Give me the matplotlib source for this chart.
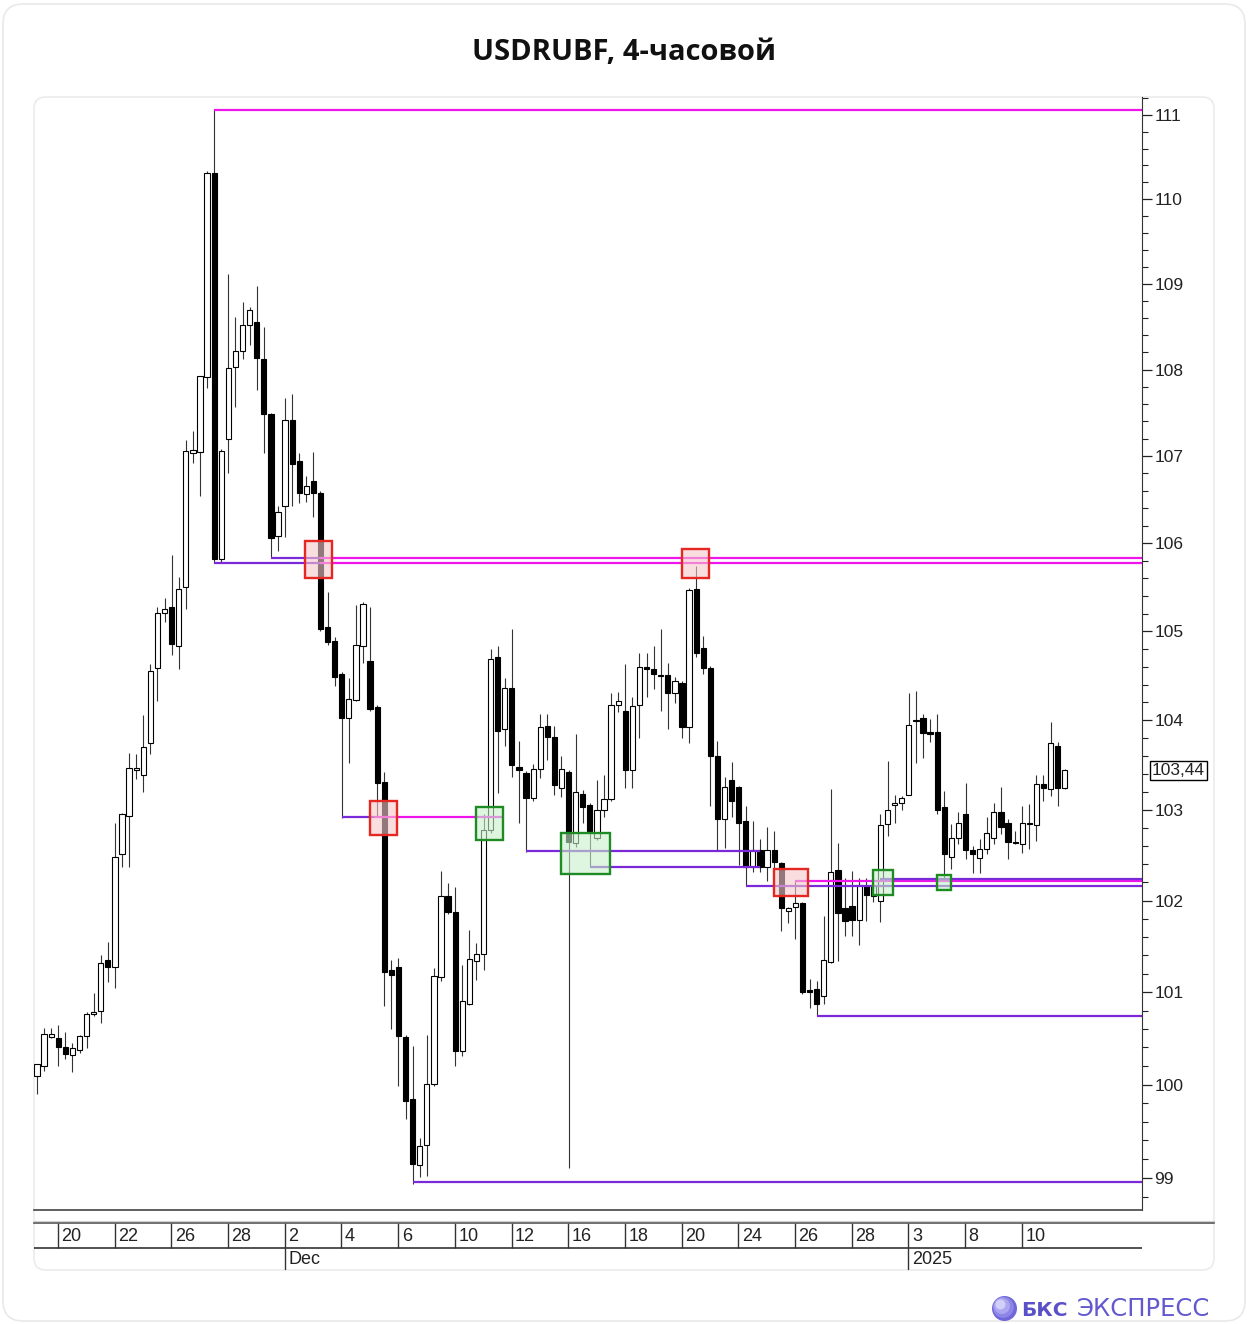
import numpy as np
import matplotlib.pyplot as plt
from matplotlib.patches import FancyBboxPatch, Rectangle, Circle
from matplotlib.lines import Line2D
from matplotlib.ticker import FixedLocator, FixedFormatter, NullFormatter


# ---------------------------------------------------------------- data (4h candles)
opens = [100.09, 100.20, 100.51, 100.50, 100.41, 100.32, 100.37, 100.52, 100.76, 100.80,
         101.35, 101.27, 102.51, 102.93, 103.44, 103.39, 103.74, 104.59, 105.21, 105.28,
         104.83, 105.50, 107.03, 107.05, 107.91, 110.31, 105.82, 107.20, 108.03, 108.21,
         108.52, 108.55, 108.12, 107.48, 106.08, 106.42, 107.42, 106.94, 106.56, 106.71,
         106.57, 105.05, 104.89, 104.52, 104.02, 104.23, 104.83, 104.67, 104.15, 103.31,
         101.24, 101.27, 100.51, 99.84, 99.14, 99.35, 100.01, 101.16, 102.05, 101.87,
         100.36, 100.87, 101.34, 101.41, 102.78, 104.71, 103.90, 104.36, 103.48, 103.41,
         103.13, 103.46, 103.94, 103.81, 103.24, 103.42, 102.63, 103.18, 103.06, 102.69,
         103.00, 103.12, 104.17, 104.10, 103.44, 104.17, 104.60, 104.57, 104.51, 104.51,
         104.30, 104.42, 103.92, 105.48, 104.81, 104.59, 103.60, 102.90, 103.33, 103.25,
         102.88, 102.37, 102.56, 102.37, 102.56, 102.41, 101.89, 101.93, 101.97, 101.02,
         101.03, 100.96, 101.33, 102.34, 101.92, 101.94, 101.79, 102.16, 102.05, 101.99,
         102.84, 103.06, 103.08, 103.17, 103.99, 104.02, 103.87, 103.87, 103.03, 102.48,
         102.69, 102.96, 102.56, 102.47, 102.57, 102.69, 102.98, 102.86, 102.65, 102.62,
         102.86, 102.83, 103.29, 103.23, 103.71, 103.24]
highs = [100.22, 100.61, 100.61, 100.64, 100.57, 100.45, 100.54, 100.78, 100.99, 101.40,
         101.55, 102.86, 102.97, 103.63, 103.62, 104.06, 104.63, 105.28, 105.38, 105.86,
         105.61, 107.18, 107.29, 107.93, 110.33, 111.06, 107.08, 109.12, 108.61, 108.79,
         108.73, 108.98, 108.49, 107.50, 106.42, 107.67, 107.72, 107.03, 106.77, 107.05,
         106.60, 105.45, 104.93, 104.54, 104.47, 105.30, 105.33, 105.28, 104.17, 103.42,
         101.35, 101.37, 100.53, 100.42, 99.43, 100.54, 101.26, 102.33, 102.19, 102.15,
         101.29, 101.68, 101.54, 102.95, 104.80, 104.83, 104.47, 105.03, 103.77, 103.43,
         103.51, 104.07, 104.07, 103.94, 103.60, 103.44, 103.84, 103.22, 103.08, 103.33,
         103.39, 104.30, 104.32, 104.63, 104.26, 104.75, 104.76, 104.83, 105.03, 104.64,
         104.49, 104.44, 105.49, 105.74, 104.95, 104.61, 103.77, 103.37, 103.53, 103.27,
         103.04, 102.88, 102.68, 102.81, 102.77, 102.43, 101.93, 102.23, 101.98, 101.14,
         101.12, 101.83, 103.23, 102.63, 102.25, 102.33, 102.25, 102.25, 102.22, 102.96,
         103.54, 103.17, 103.15, 104.30, 104.33, 104.07, 104.01, 104.07, 103.21, 102.84,
         102.98, 103.30, 102.60, 102.68, 102.92, 103.08, 103.26, 102.90, 102.77, 103.04,
         103.07, 103.39, 103.39, 103.98, 103.76, 103.45]
lows = [99.90, 100.15, 100.50, 100.20, 100.28, 100.14, 100.34, 100.39, 100.74, 100.66,
        101.11, 101.04, 102.37, 102.37, 103.34, 103.20, 103.62, 104.22, 105.11, 104.73,
        104.58, 105.25, 106.92, 106.54, 107.78, 105.78, 105.78, 106.80, 107.57, 108.12,
        108.29, 107.76, 107.03, 105.83, 105.91, 106.07, 106.43, 106.46, 106.47, 106.30,
        105.00, 104.85, 104.38, 102.91, 103.52, 104.21, 104.64, 104.10, 102.93, 100.85,
        100.60, 99.98, 99.63, 98.94, 99.01, 99.02, 99.98, 101.12, 101.85, 100.20,
        100.31, 100.86, 101.13, 101.24, 102.75, 103.19, 103.71, 103.37, 102.86, 102.53,
        103.10, 103.35, 103.56, 103.17, 103.14, 99.11, 102.59, 102.85, 102.37, 102.67,
        102.92, 103.10, 104.09, 103.24, 103.24, 103.80, 104.26, 104.35, 104.10, 103.90,
        104.19, 103.80, 103.75, 104.71, 104.52, 103.04, 102.56, 102.58, 102.92, 102.39,
        102.16, 102.31, 102.31, 102.21, 102.35, 101.67, 101.75, 101.58, 100.98, 100.83,
        100.74, 100.87, 101.32, 101.34, 101.61, 101.61, 101.51, 101.78, 101.98, 101.77,
        102.71, 102.85, 103.00, 103.17, 103.52, 103.58, 103.76, 102.95, 102.22, 102.35,
        102.62, 102.46, 102.30, 102.30, 102.51, 102.62, 102.73, 102.46, 102.62, 102.52,
        102.57, 102.66, 103.10, 103.15, 103.04, 103.23]
closes = [100.22, 100.55, 100.55, 100.40, 100.33, 100.39, 100.52, 100.76, 100.78, 101.32,
          101.27, 102.48, 102.95, 103.47, 103.47, 103.70, 104.55, 105.21, 105.25, 104.86,
          105.48, 107.06, 107.07, 107.92, 110.31, 105.82, 107.06, 108.02, 108.22, 108.52,
          108.69, 108.13, 107.48, 106.06, 106.36, 107.42, 106.91, 106.57, 106.66, 106.58,
          105.03, 104.88, 104.49, 104.02, 104.24, 104.85, 105.31, 104.12, 103.30, 101.22,
          101.19, 100.52, 99.82, 99.15, 99.34, 100.01, 101.18, 102.05, 101.87, 100.36,
          100.90, 101.36, 101.41, 102.78, 104.69, 103.88, 104.36, 103.50, 103.44, 103.13,
          103.46, 103.92, 103.81, 103.28, 103.46, 102.64, 103.20, 103.03, 102.77, 103.00,
          103.12, 104.17, 104.21, 103.44, 104.16, 104.60, 104.57, 104.52, 104.50, 104.30,
          104.44, 103.92, 105.47, 104.75, 104.59, 103.60, 102.90, 103.26, 103.10, 102.86,
          102.37, 102.56, 102.37, 102.56, 102.42, 101.92, 101.92, 101.97, 101.00, 101.00,
          100.87, 101.35, 102.31, 101.86, 101.78, 101.79, 102.17, 102.06, 102.16, 102.83,
          103.00, 103.08, 103.13, 103.95, 104.00, 103.86, 103.85, 103.00, 102.51, 102.69,
          102.86, 102.56, 102.51, 102.57, 102.75, 102.98, 102.81, 102.64, 102.63, 102.86,
          102.84, 103.29, 103.24, 103.74, 103.24, 103.44]

# support / resistance levels: price, from candle, to candle (None = right edge), colour
levels = [
    (111.06, 25, None, 'magenta'),
    (105.78, 25, 40, 'purple'), (105.78, 40, None, 'magenta'),
    (105.83, 33, 40, 'purple'), (105.83, 40, None, 'magenta'),
    (102.92, 43, 47.5, 'purple'), (102.92, 47.5, 65.7, 'magenta'),
    (102.55, 69, 102, 'purple'),
    (102.37, 78, 102, 'purple'),
    (102.16, 100, None, 'purple'),
    (102.21, 107, None, 'magenta'),
    (102.235, 119, None, 'purple'),
    (100.74, 110, None, 'purple'),
    (98.96, 53, None, 'purple'),
]

# signal boxes: candle from, candle to, price low, price high, kind
boxes = [
    (37.8, 41.6, 105.60, 106.03, 'sell'),
    (47.0, 50.8, 102.72, 103.10, 'sell'),
    (61.9, 65.7, 102.67, 103.03, 'buy'),
    (73.9, 80.8, 102.29, 102.74, 'buy'),
    (91.0, 94.8, 105.60, 105.93, 'sell'),
    (104.0, 108.8, 102.05, 102.35, 'sell'),
    (118.0, 120.8, 102.06, 102.34, 'buy'),
    (127.0, 129.0, 102.12, 102.28, 'buy'),
]

day_labels = ['20', '22', '26', '28', '2', '4', '6', '10', '12', '16', '18',
              '20', '24', '26', '28', '3', '8', '10']
month_labels = {4: 'Dec', 15: '2025'}
price_ticks = list(range(99, 112))
last_price = 103.44
title = 'USDRUBF, 4-часовой'


################################################################################
W, H = 1249, 1324
fig = plt.figure(figsize=(W / 100, H / 100), dpi=100)
fig.patch.set_facecolor('white')

def fx(px):
    return px / W

def fy(py):
    return 1 - py / H

def inch(px, py):
    return px / 100, (H - py) / 100

colors = {'magenta': '#f014ec', 'purple': '#7a28d8'}
box_style = {'sell': ('#e52621', '#f5c9cc'), 'buy': ('#1f8b24', '#c8f0ca')}

# cards (behind the axes)
x0, y0 = inch(3, 1321)
fig.patches.append(FancyBboxPatch((x0, y0), 12.42, 13.17, boxstyle='round,pad=0,rounding_size=0.2',
                                  transform=fig.dpi_scale_trans, fc='white', ec='#e9e9e9', lw=1.2, zorder=-3))
x0, y0 = inch(34, 1270)
fig.patches.append(FancyBboxPatch((x0, y0), 11.80, 11.73, boxstyle='round,pad=0,rounding_size=0.12',
                                  transform=fig.dpi_scale_trans, fc='white', ec='#ebebeb', lw=1.2, zorder=-2))

fig.text(0.5, fy(52), title, ha='center', va='center', fontsize=21,
         fontweight='bold', family='Open Sans', color='#111111')

# ---------------------------------------------------------------- price panel
ax = fig.add_axes([fx(34), fy(1210), fx(1142) - fx(34), fy(97) - fy(1210)])
ax.set_facecolor('none')
n = len(opens)
idx = np.arange(n)
o, h, l, c = map(np.array, (opens, highs, lows, closes))
xlim = (-0.42, 155.9)

ax.vlines(idx, l, h, color='#333333', lw=0.8, zorder=2)
up = c >= o
body_lo = np.minimum(o, c)
body_h = np.maximum(np.abs(c - o), 0.012)
ax.bar(idx[up], body_h[up], bottom=body_lo[up], width=0.74, color='white',
       edgecolor='black', linewidth=0.8, zorder=3)
ax.bar(idx[~up], body_h[~up], bottom=body_lo[~up], width=0.74, color='black',
       edgecolor='black', linewidth=0.8, zorder=3)

for price, a, b, col in levels:
    ax.hlines(price, a, xlim[1] if b is None else b, color=colors[col], lw=1.6, zorder=4)

for a, b, lo, hi, kind in boxes:
    ec, fc = box_style[kind]
    ax.add_patch(Rectangle((a, lo), b - a, hi - lo, fc=fc, ec='none', alpha=0.6, zorder=5))
    ax.add_patch(Rectangle((a, lo), b - a, hi - lo, fc='none', ec=ec, lw=1.7, zorder=6))

ax.set_yscale('log')
ax.set_ylim(98.659, 111.215)
ax.set_xlim(*xlim)
ax.yaxis.tick_right()
ax.yaxis.set_major_locator(FixedLocator(price_ticks))
ax.yaxis.set_major_formatter(FixedFormatter([str(t) for t in price_ticks]))
ax.yaxis.set_minor_locator(FixedLocator(np.arange(98.8, 111.2, 0.2)))
ax.yaxis.set_minor_formatter(NullFormatter())
ax.tick_params(axis='y', which='major', length=7, width=0.9, pad=2, labelsize=12.5,
               labelfontfamily='Liberation Sans', colors='#222222')
ax.tick_params(axis='y', which='minor', length=4, width=0.8, colors='#222222')
ax.set_xticks([])
for s in ['top', 'left']:
    ax.spines[s].set_visible(False)
ax.spines['right'].set_color('#333333')
ax.spines['bottom'].set_color('#444444')
ax.spines['bottom'].set_linewidth(1.2)

ax.text(1.009, last_price, f'{last_price:.2f}'.replace('.', ','), transform=ax.get_yaxis_transform(),
        ha='left', va='center', fontsize=12.5, family='Liberation Sans', color='#222222',
        bbox=dict(boxstyle='square,pad=0.12', fc='white', ec='black', lw=1))

# ---------------------------------------------------------------- date strip
axd = fig.add_axes([fx(34), fy(1270), fx(1142) - fx(34), fy(1223) - fy(1270)])
axd.set_xlim(*xlim)
axd.set_ylim(0, 1)
axd.axis('off')
row = (1270 - 1248) / (1270 - 1223)
seps = 2.95 + 8 * np.arange(len(day_labels))
axd.vlines(seps, row, 1, color='#333333', lw=1)
for s, lab in zip(seps, day_labels):
    axd.text(s + 0.5, (1 + row) / 2 - 0.02, lab, ha='left', va='center', fontsize=13,
             family='Liberation Sans', color='#222222')
for k, lab in month_labels.items():
    axd.vlines(seps[k], 0, row, color='#333333', lw=1)
    axd.text(seps[k] + 0.5, row / 2, lab, ha='left', va='center', fontsize=13,
             family='Liberation Sans', color='#222222')
axd.hlines(row, xlim[0], xlim[1], color='#333333', lw=1.2)

fig.lines.append(Line2D([fx(34), fx(1214)], [fy(1223), fy(1223)], transform=fig.transFigure,
                        color='#555555', lw=1.2))
fig.lines.append(Line2D([fx(34), fx(1214)], [fy(1221), fy(1221)], transform=fig.transFigure,
                        color='#cfcfcf', lw=0.8))

# ---------------------------------------------------------------- logo
cx, cy = inch(1004.5, 1308.5)
for r, col, dx in [(0.125, '#7067d8', 0), (0.105, '#8d86e6', -0.012), (0.08, '#aba6ef', -0.025),
                   (0.05, '#d2cff8', -0.04)]:
    fig.patches.append(Circle((cx + dx, cy - dx), r, transform=fig.dpi_scale_trans,
                              fc=col, ec='none', zorder=3))
fig.text(fx(1021), fy(1316), 'БКС', ha='left', va='baseline', fontsize=14.5,
         fontweight='bold', family='DejaVu Sans', color='#5a50c8')
fig.text(fx(1077), fy(1316), 'ЭКСПРЕСС', ha='left', va='baseline', fontsize=17.5,
         family='DejaVu Sans', color='#6259cf')

fig.savefig('out.png', dpi=100)
